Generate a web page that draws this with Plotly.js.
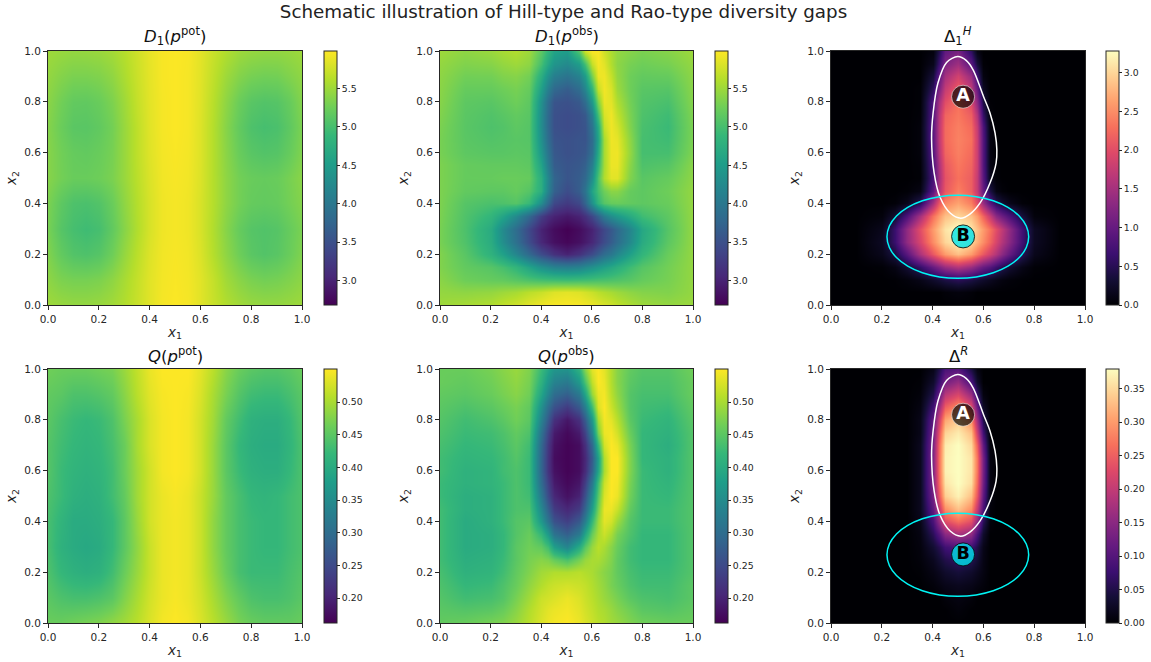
<!DOCTYPE html>
<html>
<head>
<meta charset="utf-8">
<script src="https://cdn.plot.ly/plotly-3.0.1.min.js"></script>
<style>html,body{margin:0;padding:0;background:#fff}#chart{width:1151px;height:662px}</style>
</head>
<body>
<div id="chart"></div>
<script>
const potX = [0,.05,.1,.15,.2,.25,.3,.35,.4,.45,.5,.55,.6,.65,.7,.75,.8,.85,.9,.95,1];
const potY = [0,.1,.2,.3,.4,.5,.6,.7,.8,.9,1];
const obsX = [0,.1,.2,.25,.3,.35,.4,.425,.45,.5,.55,.575,.6,.625,.65,.675,.7,.75,.8,.9,1];
const obsY = [0,.05,.1,.15,.2,.25,.3,.35,.4,.45,.5,.55,.6,.65,.7,.75,.8,.85,.9,.95,1];

const d1Pot = [
[5.5,5.47,5.45,5.45,5.47,5.52,5.6,5.72,5.85,5.95,5.98,5.95,5.85,5.72,5.6,5.52,5.47,5.45,5.45,5.47,5.5],
[5.42,5.33,5.3,5.3,5.33,5.42,5.55,5.7,5.85,5.94,5.97,5.94,5.85,5.7,5.52,5.4,5.32,5.28,5.3,5.35,5.42],
[5.35,5.18,5.08,5.05,5.1,5.25,5.45,5.65,5.83,5.93,5.96,5.93,5.82,5.62,5.42,5.25,5.13,5.08,5.12,5.22,5.35],
[5.3,5.1,5.0,4.95,5.0,5.17,5.38,5.6,5.8,5.92,5.95,5.92,5.8,5.6,5.38,5.2,5.1,5.07,5.1,5.2,5.32],
[5.32,5.15,5.05,5.03,5.08,5.22,5.42,5.62,5.8,5.92,5.95,5.92,5.8,5.62,5.42,5.28,5.2,5.18,5.2,5.28,5.37],
[5.38,5.28,5.22,5.22,5.25,5.32,5.47,5.65,5.82,5.93,5.96,5.93,5.82,5.62,5.42,5.28,5.22,5.2,5.22,5.3,5.4],
[5.38,5.27,5.2,5.18,5.22,5.3,5.47,5.67,5.84,5.94,5.97,5.94,5.83,5.62,5.4,5.22,5.12,5.08,5.1,5.2,5.35],
[5.37,5.23,5.13,5.12,5.17,5.28,5.47,5.67,5.85,5.95,5.98,5.95,5.83,5.62,5.38,5.18,5.05,5.0,5.03,5.15,5.33],
[5.4,5.27,5.18,5.17,5.22,5.33,5.5,5.7,5.86,5.95,5.98,5.95,5.84,5.64,5.42,5.23,5.12,5.08,5.1,5.2,5.37],
[5.45,5.37,5.32,5.32,5.35,5.43,5.57,5.73,5.87,5.96,5.98,5.95,5.85,5.68,5.5,5.37,5.3,5.27,5.28,5.35,5.43],
[5.5,5.47,5.45,5.46,5.48,5.53,5.62,5.75,5.88,5.96,5.98,5.96,5.86,5.72,5.6,5.5,5.46,5.44,5.44,5.46,5.5]
];
const qPot = [
[.46,.46,.465,.47,.475,.485,.495,.51,.53,.545,.55,.545,.53,.51,.49,.47,.46,.455,.455,.455,.46],
[.45,.44,.435,.435,.44,.45,.475,.5,.525,.54,.547,.54,.525,.5,.475,.455,.44,.435,.435,.44,.45],
[.44,.42,.41,.405,.41,.43,.46,.49,.52,.54,.545,.54,.52,.49,.46,.435,.425,.425,.425,.435,.445],
[.435,.41,.40,.395,.40,.42,.45,.485,.52,.54,.545,.54,.52,.485,.455,.435,.425,.42,.42,.43,.44],
[.435,.415,.40,.40,.405,.42,.45,.49,.525,.54,.545,.54,.52,.485,.455,.435,.425,.42,.42,.43,.44],
[.44,.425,.41,.405,.41,.43,.455,.495,.525,.54,.547,.54,.52,.49,.455,.435,.42,.415,.42,.43,.44],
[.445,.425,.415,.41,.415,.43,.46,.495,.525,.545,.55,.545,.525,.49,.45,.425,.41,.405,.405,.42,.44],
[.445,.43,.42,.415,.42,.435,.46,.5,.53,.545,.55,.545,.525,.49,.45,.42,.405,.40,.40,.415,.44],
[.45,.435,.425,.42,.425,.44,.47,.5,.53,.545,.55,.545,.525,.495,.455,.43,.41,.405,.405,.42,.445],
[.455,.45,.44,.44,.445,.455,.48,.51,.535,.547,.55,.547,.53,.5,.47,.445,.43,.425,.425,.435,.45],
[.465,.46,.46,.46,.465,.47,.49,.515,.54,.55,.55,.55,.535,.51,.48,.46,.45,.445,.445,.45,.46]
];
const d1Obs = [
[5.5,5.55,5.6,5.68,5.75,5.85,5.92,5.95,5.96,5.97,5.96,5.93,5.9,5.85,5.8,5.75,5.68,5.58,5.5,5.45,5.48],
[5.45,5.42,5.45,5.5,5.55,5.65,5.72,5.78,5.83,5.86,5.83,5.78,5.72,5.65,5.6,5.55,5.5,5.42,5.37,5.35,5.45],
[5.4,5.25,5.2,5.18,5.12,5.05,5.0,4.98,4.97,4.95,4.97,4.98,5.0,5.02,5.03,5.05,5.07,5.12,5.2,5.3,5.45],
[5.35,5.18,5.1,5.0,4.85,4.6,4.35,4.25,4.15,4.1,4.15,4.25,4.35,4.45,4.55,4.65,4.75,4.95,5.1,5.28,5.45],
[5.35,5.12,4.8,4.55,4.2,3.8,3.45,3.3,3.15,3.0,3.15,3.3,3.45,3.65,3.85,4.0,4.2,4.55,4.85,5.22,5.45],
[5.3,5.06,4.72,4.3,3.9,3.45,3.05,2.92,2.82,2.73,2.82,2.92,3.05,3.25,3.45,3.65,3.85,4.25,4.7,5.14,5.45],
[5.3,5.04,4.7,4.25,3.85,3.4,3.0,2.88,2.78,2.68,2.78,2.88,3.0,3.2,3.4,3.6,3.8,4.2,4.65,5.1,5.45],
[5.32,5.06,4.85,4.6,4.25,3.8,3.3,3.1,3.0,2.9,3.0,3.15,3.4,3.7,4.05,4.3,4.45,4.7,4.95,5.15,5.45],
[5.33,5.1,5.03,5.05,5.1,4.9,4.3,3.8,3.4,3.25,3.4,3.75,4.35,4.85,5.1,5.2,5.22,5.18,5.15,5.22,5.45],
[5.33,5.18,5.15,5.15,5.2,5.1,4.75,4.15,3.7,3.45,3.65,3.95,4.6,5.0,5.25,5.4,5.4,5.2,5.15,5.25,5.45],
[5.33,5.2,5.2,5.22,5.22,5.2,4.75,4.2,3.75,3.55,3.65,3.8,4.3,5.05,5.6,5.85,5.85,5.35,5.12,5.2,5.42],
[5.33,5.2,5.18,5.18,5.18,5.15,4.6,4.05,3.65,3.55,3.6,3.7,4.1,4.85,5.55,5.9,5.9,5.4,5.05,5.1,5.4],
[5.3,5.15,5.12,5.12,5.14,5.12,4.45,3.95,3.6,3.5,3.55,3.6,3.9,4.7,5.55,5.9,5.92,5.45,5.0,5.0,5.35],
[5.3,5.13,5.08,5.1,5.12,5.1,4.35,3.85,3.55,3.5,3.55,3.55,3.85,4.6,5.55,5.92,5.88,5.42,5.0,4.95,5.33],
[5.32,5.12,5.05,5.08,5.15,5.1,4.3,3.8,3.5,3.45,3.5,3.55,3.95,4.7,5.7,5.92,5.8,5.35,5.02,4.92,5.33],
[5.35,5.13,5.07,5.12,5.18,5.12,4.3,3.8,3.5,3.45,3.5,3.6,4.1,5.0,5.8,5.92,5.7,5.32,5.05,4.95,5.35],
[5.38,5.15,5.12,5.18,5.25,5.15,4.35,3.85,3.55,3.5,3.6,3.85,4.45,5.35,5.9,5.85,5.6,5.28,5.08,5.02,5.38],
[5.4,5.2,5.2,5.25,5.3,5.2,4.55,4.1,3.8,3.65,3.85,4.2,4.85,5.7,5.93,5.8,5.5,5.25,5.12,5.1,5.4],
[5.42,5.27,5.28,5.35,5.38,5.28,4.75,4.35,4.1,3.95,4.15,4.5,5.3,5.9,5.92,5.7,5.45,5.25,5.18,5.2,5.42],
[5.45,5.35,5.38,5.45,5.5,5.42,5.0,4.65,4.4,4.25,4.5,5.0,5.7,5.95,5.85,5.6,5.42,5.3,5.25,5.3,5.45],
[5.5,5.42,5.48,5.55,5.6,5.5,5.15,4.85,4.6,4.5,5.1,5.75,5.97,5.97,5.75,5.58,5.45,5.38,5.32,5.38,5.5]
];
const qObs = [
[.455,.46,.47,.475,.49,.51,.53,.54,.545,.55,.54,.53,.52,.51,.505,.495,.49,.475,.465,.46,.46],
[.45,.445,.45,.46,.48,.505,.525,.535,.54,.545,.535,.525,.515,.505,.5,.49,.48,.465,.45,.445,.455],
[.445,.43,.435,.445,.47,.495,.52,.525,.53,.54,.53,.52,.51,.5,.49,.48,.47,.45,.44,.435,.45],
[.44,.42,.425,.44,.46,.485,.505,.515,.52,.525,.52,.515,.505,.495,.485,.47,.46,.44,.43,.43,.45],
[.435,.41,.415,.43,.455,.475,.495,.5,.505,.505,.51,.505,.5,.49,.48,.47,.455,.435,.425,.425,.445],
[.43,.405,.41,.425,.45,.47,.48,.475,.46,.44,.47,.49,.5,.5,.49,.475,.455,.43,.42,.42,.445],
[.43,.4,.405,.42,.45,.465,.455,.43,.38,.34,.40,.45,.49,.51,.50,.48,.46,.43,.42,.42,.445],
[.43,.4,.405,.42,.445,.46,.42,.37,.31,.28,.32,.39,.46,.50,.52,.50,.47,.44,.42,.42,.445],
[.43,.4,.41,.425,.445,.45,.37,.31,.26,.235,.27,.33,.42,.49,.535,.525,.495,.445,.425,.425,.445],
[.43,.405,.41,.425,.44,.44,.345,.28,.23,.205,.23,.29,.38,.47,.54,.54,.52,.455,.425,.425,.445],
[.425,.405,.41,.425,.44,.43,.32,.25,.205,.18,.20,.26,.35,.45,.53,.55,.54,.465,.425,.42,.445],
[.425,.41,.415,.425,.44,.425,.30,.235,.19,.17,.185,.235,.32,.43,.52,.55,.545,.47,.425,.415,.445],
[.43,.41,.415,.43,.44,.425,.29,.22,.18,.165,.175,.21,.285,.39,.50,.55,.55,.475,.425,.41,.445],
[.43,.415,.42,.43,.445,.425,.29,.22,.175,.165,.175,.205,.275,.38,.505,.55,.55,.475,.42,.41,.445],
[.435,.42,.425,.435,.45,.43,.295,.225,.18,.165,.175,.215,.295,.42,.525,.55,.54,.47,.42,.405,.445],
[.44,.425,.43,.44,.455,.44,.31,.24,.19,.17,.19,.24,.335,.47,.54,.545,.525,.46,.42,.41,.445],
[.445,.43,.44,.45,.465,.45,.335,.27,.215,.185,.215,.275,.37,.50,.545,.535,.51,.45,.425,.415,.45],
[.45,.44,.45,.46,.47,.455,.36,.30,.26,.23,.27,.33,.43,.53,.55,.52,.495,.445,.43,.425,.455],
[.455,.45,.46,.47,.48,.465,.39,.34,.30,.28,.32,.39,.49,.54,.545,.51,.485,.445,.435,.435,.46],
[.46,.455,.465,.475,.485,.47,.41,.365,.335,.32,.37,.44,.515,.55,.54,.505,.48,.45,.44,.44,.46],
[.46,.46,.47,.48,.49,.475,.425,.39,.365,.36,.41,.48,.535,.55,.535,.505,.48,.455,.445,.445,.465]
];
const deltaH = [
[0,0,0,0,0,0,0,0,0,0,0,0,0,0,0,0,0,0,0,0,0],
[0,0,0,0,0,0,0,0,.03,.06,.03,0,0,0,0,0,0,0,0,0,0],
[0,0,0,.01,.05,.12,.25,.32,.4,.5,.4,.32,.25,.18,.12,.07,.04,.01,0,0,0],
[0,0,.02,.1,.3,.6,1.0,1.2,1.4,1.6,1.4,1.2,1.0,.85,.65,.47,.3,.12,.02,0,0],
[0,0,.15,.4,.9,1.55,2.1,2.35,2.6,2.85,2.6,2.35,2.1,1.85,1.6,1.3,1.0,.5,.15,0,0],
[0,0,.2,.65,1.35,1.9,2.5,2.75,3.0,3.2,3.0,2.75,2.5,2.2,1.9,1.6,1.3,.7,.2,0,0],
[0,0,.15,.65,1.35,2.0,2.6,2.85,3.1,3.28,3.1,2.85,2.6,2.3,2.0,1.7,1.35,.7,.2,0,0],
[0,0,.05,.3,.8,1.5,2.3,2.6,2.85,3.0,2.85,2.6,2.2,1.75,1.3,1.05,.8,.35,.05,0,0],
[0,0,0,.03,.15,.5,1.5,2.1,2.45,2.65,2.4,2.0,1.4,.85,.5,.3,.15,.03,0,0,0],
[0,0,0,0,.02,.1,.9,1.6,2.1,2.4,2.15,1.75,1.0,.4,.1,.03,0,0,0,0,0],
[0,0,0,0,0,.02,.75,1.5,2.05,2.3,2.15,1.75,.9,.15,.02,0,0,0,0,0,0],
[0,0,0,0,0,.03,.8,1.55,2.1,2.35,2.2,1.8,.85,.1,.01,0,0,0,0,0,0],
[0,0,0,0,0,.05,.85,1.65,2.2,2.4,2.25,1.8,.85,.08,0,0,0,0,0,0,0],
[0,0,0,0,0,.05,.9,1.7,2.25,2.42,2.3,1.8,.85,.08,0,0,0,0,0,0,0],
[0,0,0,0,0,.05,.9,1.7,2.25,2.4,2.25,1.75,.8,.06,0,0,0,0,0,0,0],
[0,0,0,0,0,.03,.85,1.65,2.2,2.35,2.15,1.6,.6,.03,0,0,0,0,0,0,0],
[0,0,0,0,0,.02,.8,1.5,2.0,2.3,1.95,1.3,.4,.01,0,0,0,0,0,0,0],
[0,0,0,0,0,.02,.55,1.2,1.75,2.15,1.7,1.0,.2,0,0,0,0,0,0,0,0],
[0,0,0,0,0,0,.35,.95,1.5,1.85,1.4,.7,.08,0,0,0,0,0,0,0,0],
[0,0,0,0,0,0,.15,.65,1.2,1.45,.9,.35,.02,0,0,0,0,0,0,0,0],
[0,0,0,0,0,0,.06,.45,.95,1.15,.55,.1,0,0,0,0,0,0,0,0,0]
];
const deltaR = [
[0,0,0,0,0,0,0,0,0,0,0,0,0,0,0,0,0,0,0,0,0],
[0,0,0,0,0,0,0,0,0,.005,0,0,0,0,0,0,0,0,0,0,0],
[0,0,0,0,0,0,0,0,.005,.01,.005,0,0,0,0,0,0,0,0,0,0],
[0,0,0,0,0,0,.005,.01,.015,.02,.015,.01,.005,0,0,0,0,0,0,0,0],
[0,0,0,0,0,.002,.012,.02,.03,.04,.03,.02,.01,0,0,0,0,0,0,0,0],
[0,0,0,0,0,.005,.02,.035,.05,.065,.055,.035,.012,0,0,0,0,0,0,0,0],
[0,0,0,0,0,.007,.035,.055,.08,.095,.08,.05,.015,0,0,0,0,0,0,0,0],
[0,0,0,0,0,.01,.06,.1,.15,.175,.155,.09,.03,0,0,0,0,0,0,0,0],
[0,0,0,0,0,.015,.09,.16,.23,.265,.235,.155,.06,.005,0,0,0,0,0,0,0],
[0,0,0,0,0,.02,.11,.2,.29,.33,.29,.2,.09,.005,0,0,0,0,0,0,0],
[0,0,0,0,0,.02,.13,.24,.34,.37,.33,.24,.11,.01,0,0,0,0,0,0,0],
[0,0,0,0,0,.02,.14,.26,.36,.38,.355,.26,.125,.01,0,0,0,0,0,0,0],
[0,0,0,0,0,.02,.14,.265,.37,.38,.36,.27,.13,.01,0,0,0,0,0,0,0],
[0,0,0,0,0,.02,.14,.265,.37,.38,.36,.27,.13,.008,0,0,0,0,0,0,0],
[0,0,0,0,0,.02,.135,.26,.365,.38,.35,.25,.11,.005,0,0,0,0,0,0,0],
[0,0,0,0,0,.015,.125,.24,.345,.365,.33,.21,.08,0,0,0,0,0,0,0,0],
[0,0,0,0,0,.015,.11,.21,.31,.34,.29,.17,.05,0,0,0,0,0,0,0,0],
[0,0,0,0,0,.01,.08,.165,.25,.29,.23,.12,.025,0,0,0,0,0,0,0,0],
[0,0,0,0,0,.005,.05,.115,.19,.22,.16,.07,.008,0,0,0,0,0,0,0,0],
[0,0,0,0,0,.002,.03,.075,.13,.16,.09,.03,0,0,0,0,0,0,0,0,0],
[0,0,0,0,0,0,.015,.05,.09,.1,.045,.01,0,0,0,0,0,0,0,0,0]
];

const regionAX = [.499,.532,.56,.6,.626,.646,.653,.65,.626,.587,.547,.511,.469,.429,.406,.396,.402,.421,.455,.499];
const regionAY = [.978,.963,.925,.822,.756,.677,.61,.559,.48,.402,.358,.342,.362,.425,.52,.657,.756,.874,.955,.978];
const regionBX = [.7783,.7688,.7409,.6966,.6388,.5715,.4993,.4271,.3598,.302,.2577,.2298,.2203,.2298,.2577,.302,.3598,.4271,.4993,.5715,.6388,.6966,.7409,.7688,.7783];
const regionBY = [.2685,.3108,.3503,.3841,.4101,.4264,.432,.4264,.4101,.3841,.3503,.3108,.2685,.2262,.1867,.1529,.1269,.1106,.105,.1106,.1269,.1529,.1867,.2262,.2685];
const labelX = [.52,.52];
const labelY = [.82,.27];
const labelText = ['A','B'];

const viridis = [[0,'#440154'],[.111,'#482878'],[.222,'#3e4989'],[.333,'#31688e'],[.444,'#26828e'],[.556,'#1f9e89'],[.667,'#35b779'],[.778,'#6ece58'],[.889,'#b5de2b'],[1,'#fde725']];
const magma = [[0,'#000004'],[.1,'#140e36'],[.2,'#3b0f70'],[.3,'#641a80'],[.4,'#8c2981'],[.5,'#b73779'],[.6,'#de4968'],[.7,'#f7705c'],[.8,'#fe9f6d'],[.9,'#fecf92'],[1,'#fcfdbf']];

const W = 1151, H = 662;
const FONT = '"DejaVu Sans", sans-serif';
const INK = '#262626';
const colLeft = [48, 440, 831];
const colRight = [302, 693, 1085];
const rowTop = [51, 369];
const rowBottom = [305, 623];
const cbLeft = [323.5, 714.5, 1105.5];

const panels = [
 {x:potX,y:potY,z:d1Pot,cs:viridis,zmin:2.68,zmax:5.99,tv:[3,3.5,4,4.5,5,5.5],tf:'.1f',title:'<i>D</i><sub>1</sub>(<i>p</i><sup>pot</sup>)'},
 {x:obsX,y:obsY,z:d1Obs,cs:viridis,zmin:2.68,zmax:5.99,tv:[3,3.5,4,4.5,5,5.5],tf:'.1f',title:'<i>D</i><sub>1</sub>(<i>p</i><sup>obs</sup>)'},
 {x:obsX,y:obsY,z:deltaH,cs:magma,zmin:0,zmax:3.28,tv:[0,.5,1,1.5,2,2.5,3],tf:'.1f',title:'Δ<sub>1</sub><sup><i>H</i></sup>',marks:true},
 {x:potX,y:potY,z:qPot,cs:viridis,zmin:.162,zmax:.5505,tv:[.2,.25,.3,.35,.4,.45,.5],tf:'.2f',title:'<i>Q</i>(<i>p</i><sup>pot</sup>)'},
 {x:obsX,y:obsY,z:qObs,cs:viridis,zmin:.162,zmax:.5505,tv:[.2,.25,.3,.35,.4,.45,.5],tf:'.2f',title:'<i>Q</i>(<i>p</i><sup>obs</sup>)'},
 {x:obsX,y:obsY,z:deltaR,cs:magma,zmin:0,zmax:.3795,tv:[0,.05,.1,.15,.2,.25,.3,.35],tf:'.2f',title:'Δ<sup><i>R</i></sup>',marks:true}
];

const data = [];
const annotations = [];
const layout = {
  width:W, height:H, autosize:false, paper_bgcolor:'#fff', plot_bgcolor:'#fff',
  margin:{l:0,r:0,t:0,b:0}, showlegend:false, font:{family:FONT,color:INK},
  title:{text:'Schematic illustration of Hill-type and Rao-type diversity gaps',font:{family:FONT,size:18.3,color:'#222'},x:563.5/W,xanchor:'center',y:1-12/H,yanchor:'middle'},
  annotations
};

panels.forEach((p,i)=>{
  const c = i%3, r = Math.floor(i/3), n = i+1;
  const xk = 'x'+(n>1?n:''), yk = 'y'+(n>1?n:'');
  const axisBase = {
    range:[0,1], dtick:.2, tick0:0, tickformat:'.1f', ticks:'outside', ticklen:4, tickwidth:1, tickcolor:INK,
    showline:true, linecolor:INK, linewidth:1, mirror:true, showgrid:false, zeroline:false, fixedrange:true,
    tickfont:{family:FONT,size:10.5,color:INK}, automargin:false
  };
  layout['xaxis'+(n>1?n:'')] = Object.assign({},axisBase,{
    domain:[colLeft[c]/W,colRight[c]/W], anchor:yk,
    title:{text:'<i>x</i><sub>1</sub>',font:{family:FONT,size:13.5,color:INK},standoff:3}
  });
  layout['yaxis'+(n>1?n:'')] = Object.assign({},axisBase,{
    domain:[1-rowBottom[r]/H,1-rowTop[r]/H], anchor:xk,
    title:{text:'<i>x</i><sub>2</sub>',font:{family:FONT,size:13.5,color:INK},standoff:4}
  });
  data.push({
    type:'heatmap', x:p.x, y:p.y, z:p.z, xaxis:xk, yaxis:yk, zsmooth:'best', colorscale:p.cs,
    zmin:p.zmin, zmax:p.zmax, hoverinfo:'skip',
    colorbar:{
      x:cbLeft[c]/W, xanchor:'left', xpad:0, ypad:0, y:1-rowBottom[r]/H, yanchor:'bottom',
      len:(rowBottom[r]-rowTop[r])/H, lenmode:'fraction', thickness:13, thicknessmode:'pixels',
      outlinewidth:1, outlinecolor:INK, borderwidth:0, ticks:'outside', ticklen:3, tickwidth:1, tickcolor:INK,
      tickvals:p.tv, tickformat:p.tf, tickfont:{family:FONT,size:9.3,color:INK}
    }
  });
  annotations.push({
    text:p.title, xref:'paper', yref:'paper', x:(colLeft[c]+colRight[c])/2/W, y:1-(rowTop[r]-1)/H,
    xanchor:'center', yanchor:'bottom', showarrow:false, font:{family:FONT,size:16.5,color:'#111'}
  });
  if(p.marks){
    data.push({type:'scatter',mode:'lines',x:regionAX,y:regionAY,xaxis:xk,yaxis:yk,line:{color:'#ffffff',width:1.5,shape:'spline',smoothing:.9},hoverinfo:'skip'});
    data.push({type:'scatter',mode:'lines',x:regionBX,y:regionBY,xaxis:xk,yaxis:yk,line:{color:'#00f5f5',width:1.5,shape:'spline',smoothing:1},hoverinfo:'skip'});
    data.push({type:'scatter',mode:'markers+text',x:[labelX[0]],y:[labelY[0]],text:[labelText[0]],xaxis:xk,yaxis:yk,textposition:'middle center',
      marker:{size:23,color:'rgba(0,0,0,.68)',line:{color:'rgba(255,255,255,.55)',width:1}},
      textfont:{family:FONT,size:17.5,color:'#ffffff',weight:'bold'},hoverinfo:'skip'});
    data.push({type:'scatter',mode:'markers+text',x:[labelX[1]],y:[labelY[1]],text:[labelText[1]],xaxis:xk,yaxis:yk,textposition:'middle center',
      marker:{size:23,color:'rgba(0,229,238,.8)',line:{color:'rgba(0,0,0,.8)',width:1}},
      textfont:{family:FONT,size:17.5,color:'#000000',weight:'bold'},hoverinfo:'skip'});
  }
});

Plotly.newPlot('chart',data,layout,{displayModeBar:false,staticPlot:true});
</script>
</body>
</html>
